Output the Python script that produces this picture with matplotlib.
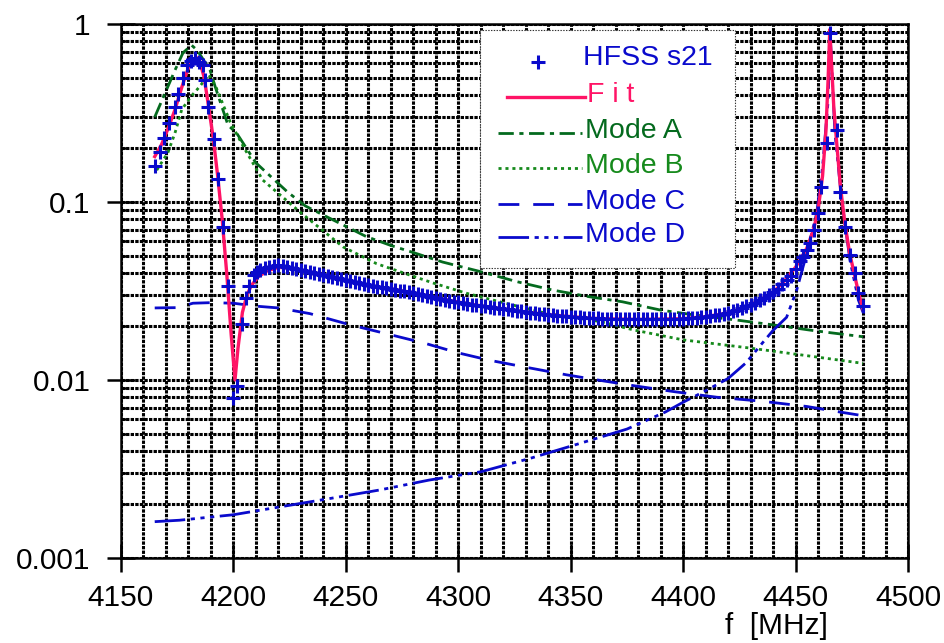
import numpy as np
import matplotlib
matplotlib.use('Agg')
import matplotlib.pyplot as plt
from matplotlib.lines import Line2D
from matplotlib.patches import Rectangle
from matplotlib.ticker import FixedLocator, MultipleLocator, NullFormatter, LogLocator

plt.rcParams['font.family'] = ['Liberation Sans', 'DejaVu Sans']
plt.rcParams['lines.scale_dashes'] = False

# ---------------- data ----------------
hfss_f = [4165.0, 4167.3, 4169.3, 4171.4, 4174.0, 4175.5, 4177.7, 4179.5, 4181.0, 4183.0,
          4184.8, 4186.3, 4187.4, 4188.8, 4191.4, 4193.3, 4195.5, 4197.4, 4199.9, 4201.4,
          4203.7, 4205.4, 4206.9, 4209.1, 4210.5,
          4212, 4214, 4216, 4218, 4220, 4222, 4224, 4226, 4228, 4230,
          4232, 4234, 4236, 4238, 4240, 4242, 4244, 4246, 4248, 4250,
          4252, 4254, 4256, 4258, 4260, 4262, 4264, 4266, 4268, 4270,
          4272, 4274, 4276, 4278, 4280, 4282, 4284, 4286, 4288, 4290,
          4292, 4294, 4296, 4298, 4300, 4302, 4304, 4306, 4308, 4310,
          4312, 4314, 4316, 4318, 4320, 4322, 4324, 4326, 4328, 4330,
          4332, 4334, 4336, 4338, 4340, 4342, 4344, 4346, 4348, 4350,
          4352, 4354, 4356, 4358, 4360, 4362, 4364, 4366, 4368, 4370,
          4372, 4374, 4376, 4378, 4380, 4382, 4384, 4386, 4388, 4390,
          4392, 4394, 4396, 4398, 4400, 4402, 4404, 4406, 4408, 4410,
          4412, 4414, 4416, 4418, 4420, 4422, 4424, 4426, 4428, 4430,
          4432, 4434, 4436, 4438, 4440, 4442, 4444, 4446, 4448, 4450,
          4452, 4453.4, 4455, 4456.4, 4458.2, 4460.1, 4461.1, 4463.8, 4465.3,
          4468.3, 4469.8, 4472.0, 4474.2, 4476.4, 4477.9, 4480.1]
hfss_s21 = [0.16, 0.19, 0.228, 0.279, 0.343, 0.404, 0.50, 0.589, 0.622, 0.641,
            0.614, 0.589, 0.484, 0.343, 0.225, 0.134, 0.0726, 0.0337, 0.0079, 0.0093,
            0.0206, 0.0288, 0.0337, 0.0389, 0.0402,
            0.0413, 0.0425, 0.0432, 0.0437, 0.0440, 0.0437, 0.0432, 0.0424, 0.0420, 0.0416,
            0.0410, 0.0403, 0.0399, 0.0395, 0.0390, 0.0385, 0.0380, 0.0375, 0.0369, 0.0364,
            0.0359, 0.0355, 0.0350, 0.0345, 0.0341, 0.0338, 0.0335, 0.0333, 0.0330, 0.0325,
            0.0321, 0.0318, 0.0315, 0.0311, 0.0308, 0.0305, 0.0302, 0.0297, 0.0292, 0.0289,
            0.0285, 0.0282, 0.0279, 0.0276, 0.0273, 0.0271, 0.0268, 0.0265, 0.0263, 0.0261,
            0.0259, 0.0257, 0.0255, 0.0253, 0.0251, 0.0249, 0.0247, 0.0245, 0.0243, 0.0241,
            0.0239, 0.0237, 0.0236, 0.0234, 0.0233, 0.0232, 0.0230, 0.0229, 0.0228, 0.0227,
            0.0226, 0.0225, 0.0224, 0.0223, 0.0222, 0.0222, 0.0221, 0.0221, 0.0220, 0.0220,
            0.0219, 0.0219, 0.0219, 0.0219, 0.0219, 0.0219, 0.0219, 0.0219, 0.0219, 0.0220,
            0.0220, 0.0220, 0.0221, 0.0221, 0.0221, 0.0222, 0.0223, 0.0224, 0.0225, 0.0227,
            0.0229, 0.0231, 0.0233, 0.0236, 0.0239, 0.0243, 0.0248, 0.0253, 0.0259, 0.0265,
            0.0272, 0.0280, 0.0290, 0.0300, 0.0312, 0.0325, 0.0346, 0.0365, 0.0385, 0.0420,
            0.0465, 0.0493, 0.0540, 0.0586, 0.0696, 0.0867, 0.122, 0.214, 0.886,
            0.254, 0.114, 0.0727, 0.0504, 0.0398, 0.0307, 0.0260]

fit_f = [4165, 4168, 4171, 4174, 4177, 4180, 4182, 4183.5, 4185, 4187, 4189, 4191, 4193,
         4195, 4197, 4199, 4200.7, 4202, 4204, 4206, 4208, 4211, 4215, 4220, 4225, 4230,
         4240, 4250, 4260, 4270, 4280, 4290, 4300, 4310, 4320, 4330, 4340, 4350, 4360,
         4370, 4380, 4390, 4400, 4410, 4420, 4430, 4440, 4445, 4450, 4455, 4458, 4460,
         4462, 4463.5, 4464.5, 4465.2, 4466, 4467, 4468.5, 4470, 4472, 4474, 4476, 4478, 4480]
fit_s21 = [0.18, 0.21, 0.26, 0.33, 0.44, 0.57, 0.63, 0.65, 0.62, 0.50, 0.34, 0.23, 0.14,
           0.08, 0.040, 0.018, 0.0100, 0.015, 0.024, 0.030, 0.034, 0.038, 0.041, 0.043,
           0.0425, 0.0415, 0.039, 0.0362, 0.034, 0.0325, 0.0309, 0.029, 0.0274, 0.0261,
           0.0251, 0.0241, 0.0233, 0.0227, 0.0222, 0.0220, 0.0219, 0.0220, 0.0221, 0.0227,
           0.0238, 0.0264, 0.031, 0.036, 0.043, 0.055, 0.070, 0.090, 0.14, 0.25, 0.50,
           0.93, 0.60, 0.34, 0.20, 0.12, 0.075, 0.052, 0.040, 0.031, 0.025]

modeA_f = [4165, 4170, 4174, 4177.6, 4181.4, 4184, 4189.6, 4192, 4197.6, 4201.4, 4210,
           4224, 4232, 4242, 4250, 4259, 4270, 4280, 4293, 4310, 4326, 4342, 4358, 4373,
           4390, 4405, 4424, 4440, 4456, 4466, 4480]
modeA_s = [0.30, 0.42, 0.55, 0.69, 0.76, 0.71, 0.55, 0.44, 0.27, 0.244, 0.166,
           0.114, 0.095, 0.082, 0.073, 0.064, 0.057, 0.052, 0.046, 0.0406, 0.0357, 0.032,
           0.0294, 0.0275, 0.0247, 0.0232, 0.0217, 0.0204, 0.0191, 0.0184, 0.0175]

modeB_f = [4165.9, 4170.9, 4174, 4177, 4181, 4185, 4189, 4192, 4195.5, 4198.5, 4204.4,
           4213, 4230, 4248.7, 4263.7, 4274, 4289, 4303.7, 4318.5, 4339, 4363, 4378, 4400,
           4430, 4455, 4480]
modeB_s = [0.151, 0.19, 0.244, 0.33, 0.39, 0.445, 0.52, 0.45, 0.35, 0.283, 0.205,
           0.133, 0.087, 0.056, 0.045, 0.0406, 0.035, 0.0307, 0.0275, 0.0237, 0.0213,
           0.0191, 0.0168, 0.0151, 0.0137, 0.0124]

modeC_f = [4165, 4175, 4182, 4190, 4200, 4210, 4220, 4234, 4252, 4268, 4285, 4300, 4314,
           4330, 4348, 4362, 4379, 4396, 4415, 4435, 4455, 4470, 4480]
modeC_s = [0.0254, 0.0255, 0.027, 0.0272, 0.027, 0.026, 0.0254, 0.0236, 0.0204, 0.0182,
           0.0161, 0.0142, 0.0129, 0.0118, 0.0107, 0.0100, 0.00925, 0.0086, 0.0080,
           0.0076, 0.0071, 0.0066, 0.0063]

modeD_f = [4165, 4176, 4200, 4221, 4243, 4265, 4287, 4310, 4332, 4354, 4375, 4392, 4400,
           4410, 4420, 4428, 4435, 4440, 4446, 4450.5, 4455, 4459.4, 4462, 4464.5, 4465.3,
           4467.5, 4470.5, 4474.2, 4478, 4480]
modeD_s = [0.0016, 0.00163, 0.00175, 0.00194, 0.00216, 0.00241, 0.00274, 0.00305,
           0.00363, 0.0044, 0.0053, 0.0066, 0.0075, 0.0087, 0.0102, 0.0125, 0.016, 0.019,
           0.0225, 0.032, 0.0516, 0.0867, 0.157, 0.374, 0.925, 0.244, 0.103, 0.047, 0.028,
           0.024]

x_ticks = [4150, 4200, 4250, 4300, 4350, 4400, 4450, 4500]
y_ticks = [0.001, 0.01, 0.1, 1]
y_ticklabels = ['0.001', '0.01', '0.1', '1']
legend_labels = ['HFSS s21', 'F i t', 'Mode A', 'Mode B', 'Mode C', 'Mode D']

# ---------------- styles ----------------
BLUE = '#0a0acc'
FIT = '#ff1466'
GA = '#046a1e'
GB = '#168a1c'
dashA = (0, (11, 4, 3, 4))
dashB = (0, (2.2, 2.8))
dashC = (0, (15, 10))
dashD = (0, (22, 4, 3, 4, 3, 4, 3, 4))

W, H = 945, 643
fig = plt.figure(figsize=(W / 100, H / 100), dpi=100)
ax = fig.add_axes([121 / W, 1 - 558 / H, (908 - 121) / W, (558 - 24) / H])
ax.set_yscale('log')
ax.set_xlim(4150, 4500)
ax.set_ylim(0.001, 1)

lw = 2.0
ax.plot(modeA_f, modeA_s, color=GA, lw=lw, linestyle=dashA, zorder=3)
ax.plot(modeB_f, modeB_s, color=GB, lw=lw, linestyle=dashB, zorder=3)
ax.plot(modeC_f, modeC_s, color=BLUE, lw=lw, linestyle=dashC, zorder=3)
ax.plot(modeD_f, modeD_s, color=BLUE, lw=lw, linestyle=dashD, zorder=3)
ax.plot(fit_f, fit_s21, color=FIT, lw=2.4, zorder=4)
ax.plot(hfss_f, hfss_s21, linestyle='none', marker='+', ms=9.5, mew=2.2,
        color=BLUE, zorder=5)

# grid
ax.xaxis.set_major_locator(FixedLocator(x_ticks))
ax.xaxis.set_minor_locator(MultipleLocator(10))
ax.set_xticklabels([str(v) for v in x_ticks])
ax.yaxis.set_major_locator(FixedLocator(y_ticks))
ax.set_yticklabels(y_ticklabels)
ax.yaxis.set_minor_locator(LogLocator(base=10, subs=np.arange(2, 10)))
ax.yaxis.set_minor_formatter(NullFormatter())
ax.grid(which='both', color='#000000', lw=2.2, linestyle=(0, (2.4, 0.9)), zorder=1)
ax.set_axisbelow(True)

for s in ax.spines.values():
    s.set_linewidth(1.8)
ax.tick_params(axis='both', which='major', direction='inout', length=20, width=1.8,
               labelsize=21.5)
ax.tick_params(axis='y', which='major', pad=12)
ax.tick_params(axis='x', which='major', pad=9)
ax.tick_params(axis='y', which='minor', direction='in', length=3.5, width=1.8)
ax.tick_params(axis='x', which='minor', length=0)

fig.text(776 / W, 1 - 626 / H, 'f  [MHz]', ha='center', va='center', fontsize=21.5)

# legend (manual, figure pixel coordinates)
def fx(x):
    return x / W

def fy(y):
    return 1 - y / H

box = Rectangle((fx(480), fy(268)), fx(735) - fx(480), fy(30) - fy(268),
                transform=fig.transFigure, facecolor='white', edgecolor='#333333',
                lw=0.8, linestyle=(0, (1, 1)), zorder=10)
fig.add_artist(box)

rows = [58, 95, 131, 166, 202, 235]
fig.add_artist(Line2D([fx(538)], [fy(rows[0] + 4)], transform=fig.transFigure,
                      marker='+', ms=9.5, mew=2.2, color=BLUE, linestyle='none', zorder=11))
fig.add_artist(Line2D([fx(507), fx(585)], [fy(rows[1] + 2)] * 2, transform=fig.transFigure,
                      color=FIT, lw=2.4, zorder=11))
handle_styles = [(GA, dashA), (GB, dashB), (BLUE, dashC), (BLUE, dashD)]
for (c, ls), r in zip(handle_styles, rows[2:]):
    fig.add_artist(Line2D([fx(498), fx(582)], [fy(r + 2)] * 2, transform=fig.transFigure,
                          color=c, lw=lw, linestyle=ls, zorder=11))
text_cols = [BLUE, FIT, GA, GB, BLUE, BLUE]
text_x = [583, 587, 585, 585, 585, 585]
for lab, c, r, tx in zip(legend_labels, text_cols, rows, text_x):
    fig.text(fx(tx), fy(r), lab, color=c, fontsize=20.5, ha='left', va='center', zorder=12)

fig.savefig('out.png', dpi=100)
